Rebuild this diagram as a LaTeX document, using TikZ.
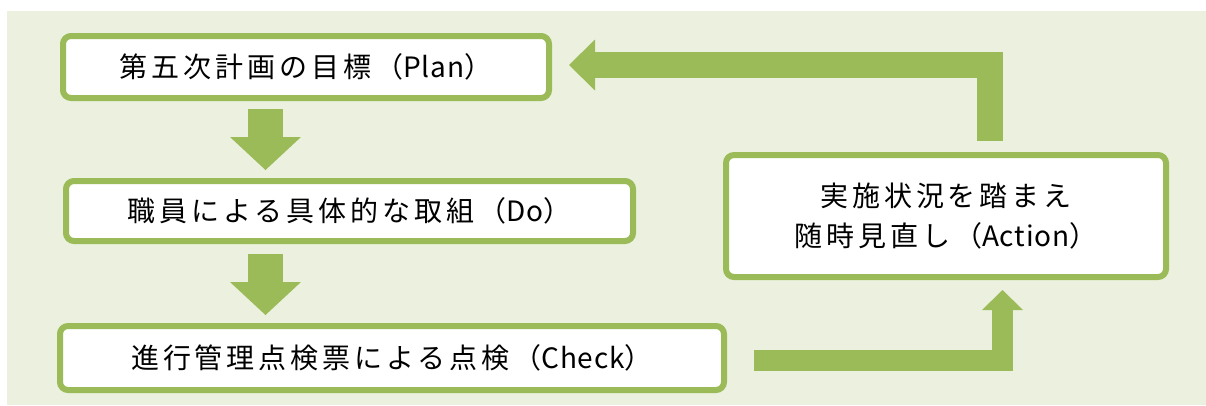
\documentclass[tikz,border=0pt]{standalone}
\usepackage{fontspec}
\newfontfamily\jp{Noto Sans CJK JP}[LetterSpace=14]
\newcommand{\lat}[1]{{\addfontfeature{LetterSpace=3}#1}}
\usetikzlibrary{arrows.meta,calc}
\definecolor{pdcagreen}{HTML}{9BBB59}
\definecolor{pdcabg}{HTML}{EBF1DE}
\tikzset{
  box/.style={draw=pdcagreen, line width=6pt, fill=white, rounded corners=8pt,
    inner sep=0pt, align=center, text=black, font=\jp\fontsize{28}{40}\selectfont},
  fatdown/.style={draw=pdcagreen, line width=35pt, line cap=butt,
    -{Triangle[width=71pt,length=33pt,line width=0pt]}},
  fatback/.style={draw=pdcagreen, line width=26pt, line cap=butt, line join=miter,
    -{Triangle[width=51pt,length=26pt,line width=0pt]}},
  fatup/.style={draw=pdcagreen, line width=21pt, line cap=butt, line join=miter,
    -{Triangle[width=41pt,length=20pt,line width=0pt]}}
}
\begin{document}
\begin{tikzpicture}[x=1pt,y=-1pt]
\useasboundingbox (0,0) rectangle (1206,405);
\fill[pdcabg] (7,11) rectangle (1206,405);

\node[box, minimum width=486pt, minimum height=62pt] (plan) at (306,67) {第五次計画の目標（\lat{Plan}）};
\node[box, minimum width=567pt, minimum height=60pt] (do) at (349.5,211) {職員による具体的な取組（\lat{Do}）};
\node[box, minimum width=664pt, minimum height=64pt] (check) at (392,358) {進行管理点検票による点検（\lat{Check}）};
\node[box, minimum width=440pt, minimum height=122pt] (action) at (946,216) {実施状況を踏まえ\\随時見直し（\lat{Action}）};

% down arrows
\coordinate (d1s) at ($(plan.south)+(-40.5,8)$);
\coordinate (d1e) at ($(do.north)+(-83.5,-8)$);
\draw[fatdown] (d1s) -- (d1s |- d1e);
\coordinate (d2s) at ($(do.south)+(-84,10)$);
\coordinate (d2e) at ($(check.north)+(-126.5,-8)$);
\draw[fatdown] (d2s) -- (d2s |- d2e);

% check -> action
\coordinate (cs) at ($(check.east)+(27,2.5)$);
\coordinate (ce) at ($(action.south)+(56.5,10)$);
\draw[fatup] (cs) -| (ce);

% action -> plan
\coordinate (rs) at ($(action.north)+(44,-11)$);
\coordinate (re) at ($(plan.east)+(17,-2)$);
\draw[fatback] (rs) |- (re);
\end{tikzpicture}
\end{document}
